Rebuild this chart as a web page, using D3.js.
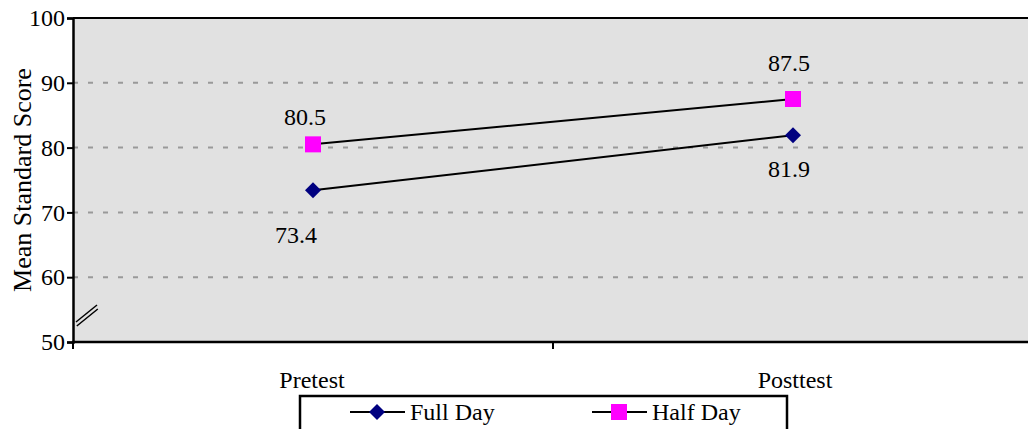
<!DOCTYPE html>
<html>
<head>
<meta charset="utf-8">
<script src="https://cdn.jsdelivr.net/npm/d3@7"></script>
</head>
<body style="margin:0">
<svg id="chart" width="1028" height="429" font-family="Liberation Serif"></svg>
<script>
// Test phases and mean standard scores per programme
const categories = ["Pretest", "Posttest"];
const fullDay = [73.4, 81.9];
const halfDay = [80.5, 87.5];
const yTicks = [50, 60, 70, 80, 90, 100];
const seriesNames = ["Full Day", "Half Day"];

const serifFont = "'Liberation Serif', Tinos, 'Times New Roman', serif";
const fs = 24;

const svg = d3.select("#chart");
const plotLeft = 73, plotRight = 1033, plotTop = 18, plotBottom = 342;

const x = d3.scaleBand().domain(categories).range([plotLeft, plotRight]);
const y = d3.scaleLinear().domain([50, 100]).range([plotBottom, plotTop]);
const cx = c => x(c) + x.bandwidth() / 2;

// apply the serif face to every label
const label = (sel, size = fs) => sel.style("font-family", serifFont).style("font-size", size + "px").attr("fill", "#000");

// plot background
svg.append("rect")
  .attr("x", plotLeft).attr("y", plotTop)
  .attr("width", 1028 - plotLeft).attr("height", plotBottom - plotTop)
  .attr("fill", "#e1e1e1");

// dashed gridlines
svg.append("g").selectAll("line")
  .data(yTicks.filter(t => t > 50 && t < 100))
  .join("line")
  .attr("x1", plotLeft).attr("x2", 1028)
  .attr("y1", d => y(d)).attr("y2", d => y(d))
  .attr("stroke", "#999").attr("stroke-width", 2)
  .attr("stroke-dasharray", "5,10");

// top border
svg.append("line")
  .attr("x1", plotLeft).attr("x2", 1028)
  .attr("y1", plotTop).attr("y2", plotTop)
  .attr("stroke", "#000").attr("stroke-width", 2);

// y axis
const yAxis = svg.append("g")
  .attr("transform", `translate(${plotLeft},0)`)
  .call(d3.axisLeft(y).tickValues(yTicks).tickSize(6).tickPadding(2));
yAxis.attr("font-family", null).attr("font-size", null);
yAxis.select(".domain").attr("stroke-width", 2.5);
yAxis.selectAll(".tick line").attr("stroke-width", 2);
yAxis.selectAll(".tick text").call(label);

// x axis with ticks at the band boundaries
const xAxis = svg.append("g")
  .attr("transform", `translate(0,${plotBottom})`);
xAxis.append("line")
  .attr("x1", plotLeft - 1).attr("x2", 1028)
  .attr("stroke", "#000").attr("stroke-width", 2.5);
xAxis.selectAll("line.tk")
  .data(categories)
  .join("line").attr("class", "tk")
  .attr("x1", d => x(d)).attr("x2", d => x(d))
  .attr("y1", 0).attr("y2", 7)
  .attr("stroke", "#000").attr("stroke-width", 2);
xAxis.selectAll("text")
  .data(categories)
  .join("text")
  .attr("x", d => cx(d) + (d === "Pretest" ? -1 : 2))
  .attr("y", 46)
  .attr("text-anchor", "middle")
  .call(label)
  .text(d => d);

// axis break mark
svg.append("g").selectAll("line")
  .data([0, 4])
  .join("line")
  .attr("x1", d => 76 + d * 0.2).attr("y1", d => 322 + d)
  .attr("x2", d => 97 + d * 0.2).attr("y2", d => 305 + d)
  .attr("stroke", "#000").attr("stroke-width", 1.5);

// series lines
const line = d3.line().x((d, i) => cx(categories[i])).y(d => y(d));
[fullDay, halfDay].forEach(vals => {
  svg.append("path")
    .attr("d", line(vals))
    .attr("fill", "none").attr("stroke", "#000").attr("stroke-width", 2);
});

// markers
const diamond = d3.symbol().type(d3.symbolSquare).size(128);
svg.append("g").selectAll("path")
  .data(fullDay)
  .join("path")
  .attr("d", diamond)
  .attr("transform", (d, i) => `translate(${cx(categories[i])},${y(d)}) rotate(45)`)
  .attr("fill", "#000080");
svg.append("g").selectAll("rect")
  .data(halfDay)
  .join("rect")
  .attr("x", (d, i) => cx(categories[i]) - 8)
  .attr("y", d => y(d) - 8)
  .attr("width", 16).attr("height", 16)
  .attr("fill", "#ff00ff");

// value labels (offsets from each marker)
const fullLabelOffset = [[-17, 53], [-4, 42]];
const halfLabelOffset = [[-8, -19], [-4, -28]];
svg.append("g").selectAll("text")
  .data(fullDay)
  .join("text")
  .attr("x", (d, i) => cx(categories[i]) + fullLabelOffset[i][0])
  .attr("y", (d, i) => y(d) + fullLabelOffset[i][1])
  .attr("text-anchor", "middle")
  .call(label)
  .text(d => d.toFixed(1));
svg.append("g").selectAll("text")
  .data(halfDay)
  .join("text")
  .attr("x", (d, i) => cx(categories[i]) + halfLabelOffset[i][0])
  .attr("y", (d, i) => y(d) + halfLabelOffset[i][1])
  .attr("text-anchor", "middle")
  .call(label)
  .text(d => d.toFixed(1));

// y axis title
svg.append("text")
  .attr("transform", `translate(31,${(plotTop + plotBottom) / 2}) rotate(-90)`)
  .attr("text-anchor", "middle")
  .call(label, 26)
  .text("Mean Standard Score");

// legend
const lg = svg.append("g");
lg.append("rect")
  .attr("x", 300).attr("y", 396)
  .attr("width", 487).attr("height", 45)
  .attr("fill", "#fff").attr("stroke", "#000").attr("stroke-width", 2.5);
const items = [
  { name: seriesNames[0], x0: 350, color: "#000080", shape: "diamond" },
  { name: seriesNames[1], x0: 592, color: "#ff00ff", shape: "square" }
];
items.forEach(it => {
  const ly = 412;
  lg.append("line")
    .attr("x1", it.x0).attr("x2", it.x0 + 55)
    .attr("y1", ly).attr("y2", ly)
    .attr("stroke", "#000").attr("stroke-width", 2);
  if (it.shape === "diamond") {
    lg.append("path").attr("d", diamond)
      .attr("transform", `translate(${it.x0 + 27},${ly}) rotate(45)`)
      .attr("fill", it.color);
  } else {
    lg.append("rect")
      .attr("x", it.x0 + 19).attr("y", ly - 8)
      .attr("width", 16).attr("height", 16)
      .attr("fill", it.color);
  }
  lg.append("text")
    .attr("x", it.x0 + 60).attr("y", ly + 8)
    .call(label)
    .text(it.name);
});
</script>
</body>
</html>
